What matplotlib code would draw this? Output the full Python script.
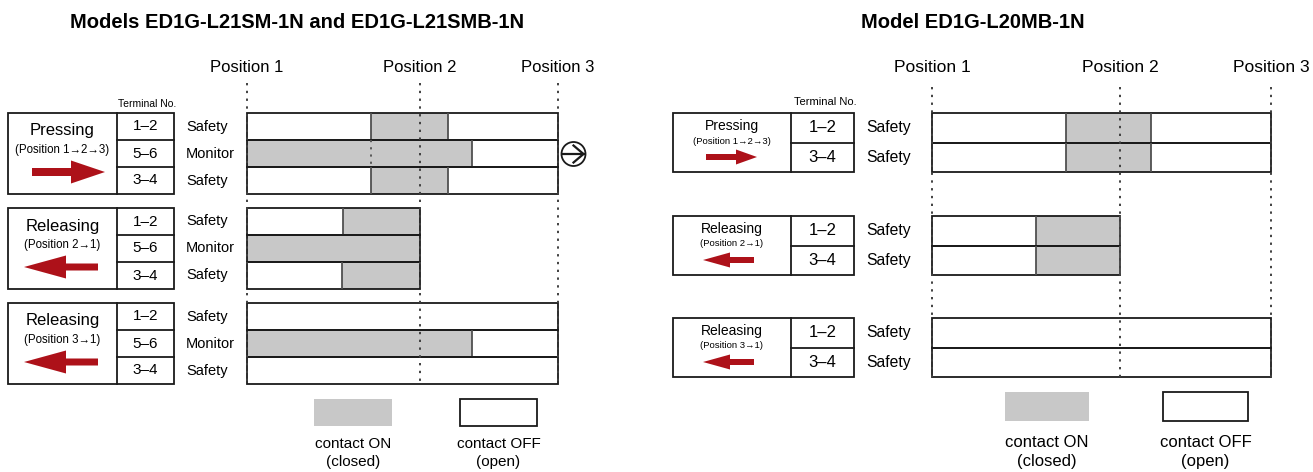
import matplotlib
matplotlib.use('Agg')
import matplotlib.pyplot as plt
from matplotlib.patches import Rectangle, FancyArrow, Circle

# ---------------- data ----------------
position_labels = ['Position 1', 'Position 2', 'Position 3']
positions = [0.0, 0.556, 1.0]          # normalised operator stroke

left_title = 'Models ED1G-L21SM-1N and ED1G-L21SMB-1N'
right_title = 'Model ED1G-L20MB-1N'

actions = ['Pressing', 'Releasing', 'Releasing']
action_notes = ['(Position 1\u21922\u21923)', '(Position 2\u21921)', '(Position 3\u21921)']
action_dirs = [1, -1, -1]
stroke_ends = [1.0, 0.556, 1.0]

left_terminals = ['1\u20132', '5\u20136', '3\u20134']
left_functions = ['Safety', 'Monitor', 'Safety']
left_on = [
    [[(0.400, 0.646)], [(0.0, 0.723)], [(0.400, 0.646)]],
    [[(0.309, 0.556)], [(0.0, 0.556)], [(0.306, 0.556)]],
    [[], [(0.0, 0.723)], []],
]
left_monitor_guide = [0.400]

right_terminals = ['1\u20132', '3\u20134']
right_functions = ['Safety', 'Safety']
right_on = [
    [[(0.395, 0.646)], [(0.395, 0.646)]],
    [[(0.307, 0.555)], [(0.307, 0.555)]],
    [[], []],
]

legend_labels = ['contact ON\n(closed)', 'contact OFF\n(open)']

# ---------------- style ----------------
W, H = 1313, 472
FONT = ['Liberation Sans', 'DejaVu Sans']
TFONT = ['Liberation Sans', 'DejaVu Sans']
EC = '#1a1a1a'
GRAY = '#c8c8c8'
RED = '#ad1119'
LW = 1.3
plt.rcParams['font.family'] = FONT

fig = plt.figure(figsize=(W / 100, H / 100), dpi=100)
ax = fig.add_axes([0, 0, 1, 1])
ax.set_xlim(0, W)
ax.set_ylim(H, 0)
ax.axis('off')

left_cfg = dict(xb=8, xd=117, xt=174, xf=186, x0=247, x1=558, tops=[113, 208, 303], rh=27,
                dy_title=18, dy_note=37, dy_arrow=59, fs_title=12, fs_note=8.3, fs_term=11,
                fs_func=10.5, fs_pos=12, pos_y=67, dot_y0=83, dot_y1=386,
                term_x=147, term_y=104, fs_termno=7.5,
                arrow_r=(32, 105, 8, 23, 34), arrow_l=(98, 24, 7, 23, 42),
                title_x=297, title_y=23, fs_head=14,
                leg=[(314, 392), (460, 537)], leg_y=(399, 426), leg_ty=453, fs_leg=11)
right_cfg = dict(xb=673, xd=791, xt=854, xf=866, x0=932, x1=1271, tops=[113, 216, 318], rh=29.5,
                 dy_title=13, dy_note=28, dy_arrow=44, fs_title=10, fs_note=6.8, fs_term=12,
                 fs_func=11.3, fs_pos=12.6, pos_y=67, dot_y0=87, dot_y1=382,
                 term_x=825, term_y=102, fs_termno=8,
                 arrow_r=(706, 757, 6, 15, 21), arrow_l=(754, 703, 6, 15, 27),
                 title_x=973, title_y=23, fs_head=14,
                 leg=[(1005, 1089), (1163, 1248)], leg_y=(392, 421), leg_ty=452, fs_leg=12)

titles = []


def panel(cfg, title, terminals, functions, on, guides=None):
    axt = fig.add_axes([cfg['x0'] / W, 0, (cfg['x1'] - cfg['x0']) / W, 1])
    axt.set_xlim(0, 1)
    axt.set_ylim(H, 0)
    axt.axis('off')
    axt.patch.set_alpha(0)
    n = len(terminals)
    rh = cfg['rh']
    titles.append(ax.text(cfg['title_x'], cfg['title_y'], title, ha='center', va='center',
                          fontsize=cfg['fs_head'], fontweight='bold', family=TFONT))
    ax.text(cfg['term_x'], cfg['term_y'], 'Terminal No.', ha='center', va='center',
            fontsize=cfg['fs_termno'])
    for g, top in enumerate(cfg['tops']):
        bottom = top + n * rh
        ax.add_patch(Rectangle((cfg['xb'], top), cfg['xt'] - cfg['xb'], n * rh,
                               fill=False, ec=EC, lw=LW))
        ax.plot([cfg['xd'], cfg['xd']], [top, bottom], color=EC, lw=LW)
        for r in range(1, n):
            ax.plot([cfg['xd'], cfg['xt']], [top + r * rh] * 2, color=EC, lw=LW)
        cx = (cfg['xb'] + cfg['xd']) / 2
        ax.text(cx, top + cfg['dy_title'], actions[g], ha='center', va='center',
                fontsize=cfg['fs_title'])
        ax.text(cx, top + cfg['dy_note'], action_notes[g], ha='center', va='center',
                fontsize=cfg['fs_note'])
        a = cfg['arrow_r'] if action_dirs[g] > 0 else cfg['arrow_l']
        ax.add_patch(FancyArrow(a[0], top + cfg['dy_arrow'], a[1] - a[0], 0, width=a[2],
                                head_width=a[3], head_length=a[4],
                                length_includes_head=True, color=RED, lw=0))
        for r in range(n):
            y0 = top + r * rh
            yc = y0 + rh / 2
            ax.text((cfg['xd'] + cfg['xt']) / 2, yc, terminals[r], ha='center', va='center',
                    fontsize=cfg['fs_term'])
            ax.text(cfg['xf'], yc, functions[r], ha='left', va='center',
                    fontsize=cfg['fs_func'])
            segs = [(s, e - s) for s, e in on[g][r]]
            if segs:
                axt.broken_barh(segs, (y0, rh), facecolors=GRAY, edgecolor='none', zorder=1)
            axt.add_patch(Rectangle((0, y0), stroke_ends[g], rh, fill=False, ec=EC, lw=LW,
                                    zorder=2, clip_on=False))
            for s, e in on[g][r]:
                for v in (s, e):
                    if 1e-6 < v < stroke_ends[g] - 1e-6:
                        axt.vlines(v, y0, y0 + rh, colors='#505050', lw=LW, zorder=2)
            if guides and g == 0 and functions[r] == 'Monitor':
                for v in guides:
                    axt.vlines(v, y0, y0 + rh, colors='#505050', lw=1.3,
                               linestyles=(0, (1.2, 2.8)), zorder=3)
    for p, lab in zip(positions, position_labels):
        axt.vlines(p, cfg['dot_y0'], cfg['dot_y1'], colors='#404040', lw=1.4,
                   linestyles=(0, (1.2, 2.8)), zorder=3, clip_on=False)
        axt.text(p, cfg['pos_y'], lab, ha='center', va='center', fontsize=cfg['fs_pos'],
                 clip_on=False)
    # legend
    (g0, g1), (w0, w1) = cfg['leg']
    ly0, ly1 = cfg['leg_y']
    ax.add_patch(Rectangle((g0, ly0), g1 - g0, ly1 - ly0, fc=GRAY, ec='none'))
    ax.add_patch(Rectangle((w0, ly0), w1 - w0, ly1 - ly0, fc='white', ec=EC, lw=LW))
    for (x0, x1), lab in zip(cfg['leg'], legend_labels):
        ax.text((x0 + x1) / 2, cfg['leg_ty'], lab, ha='center', va='center',
                fontsize=cfg['fs_leg'], linespacing=1.35)


panel(left_cfg, left_title, left_terminals, left_functions, left_on, left_monitor_guide)
panel(right_cfg, right_title, right_terminals, right_functions, right_on)

# circled arrow symbol after the pressing monitor row
cxs, cys, rs = 573.5, 154, 12
ax.add_patch(Circle((cxs, cys), rs, fill=False, ec=EC, lw=1.3))
ax.plot([cxs - 11, cxs + 10], [cys, cys], color=EC, lw=1.6)
ax.plot([cxs, cxs + 10, cxs], [cys - 8.5, cys, cys + 8.5], color=EC, lw=1.6)

# fit the heading size so the left heading spans roughly its width in the reference
fig.canvas.draw()
rend = fig.canvas.get_renderer()
w_left = titles[0].get_window_extent(rend).width
scale = 455.0 / w_left
for t in titles:
    t.set_fontsize(t.get_fontsize() * scale)

fig.savefig('out.png', dpi=100, facecolor='white')
